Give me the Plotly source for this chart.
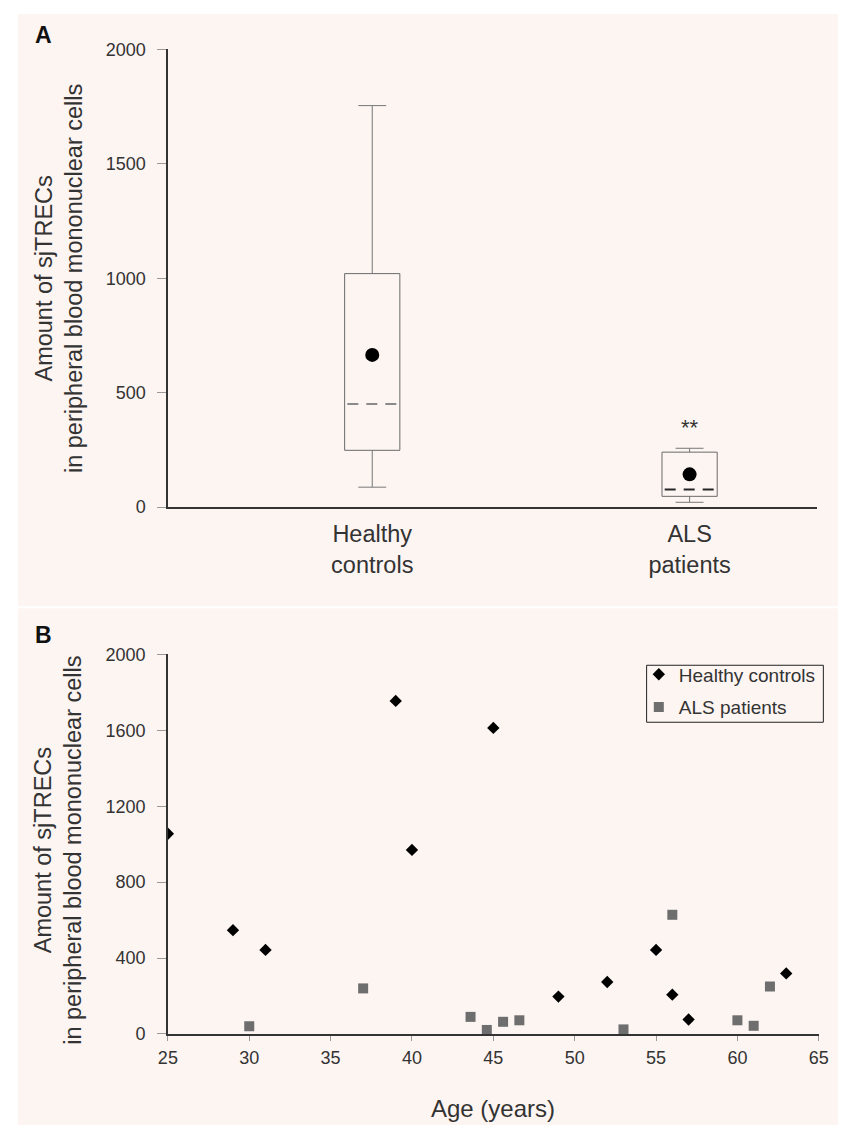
import plotly.graph_objects as go

# ---------------- data ----------------
# Panel A: summary statistics per group
groups = ["Healthy<br>controls", "ALS<br>patients"]
group_pos = [0, 1]
whisker_low = [87, 21]
q1 = [248, 47]
median = [450, 77]
q3 = [1020, 240]
whisker_high = [1754, 257]
mean = [665, 143]
signif_text = "**"
signif_group = 1
signif_y = 348

yA_ticks = [0, 500, 1000, 1500, 2000]

# Panel B: sjTRECs vs age
hc_age = [25, 29, 31, 39, 40, 45, 49, 52, 55, 56, 57, 63]
hc_val = [1055, 547, 443, 1755, 970, 1613, 197, 274, 443, 207, 76, 319]
als_age = [30, 37, 43.6, 44.6, 45.6, 46.6, 53, 56, 60, 61, 62]
als_val = [41, 240, 90, 21, 64, 72, 24, 628, 72, 43, 250]

xB_ticks = [25, 30, 35, 40, 45, 50, 55, 60, 65]
yB_ticks = [0, 400, 800, 1200, 1600, 2000]

# ---------------- layout helpers ----------------
W, H = 848, 1136
BG = "#fdf5f2"
FONT = "Liberation Sans, Arial, sans-serif"
TXT = "#333333"


def px(x):
    return x / W


def py(y):
    return 1 - y / H


box_w = 0.174
cap_w = 0.088
med_w = 0.157
median_colors = ["#8a8a8a", "#262626"]

fig = go.Figure()

# --- Panel A: boxes built from the summary arrays ---
bx, by, wx, wy = [], [], [], []
for i, p in enumerate(group_pos):
    l, r = p - box_w / 2, p + box_w / 2
    bx += [l, r, r, l, l, None]
    by += [q1[i], q1[i], q3[i], q3[i], q1[i], None]
    # upper whisker + cap
    wx += [p, p, None, p - cap_w / 2, p + cap_w / 2, None]
    wy += [q3[i], whisker_high[i], None, whisker_high[i], whisker_high[i], None]
    # lower whisker + cap
    wx += [p, p, None, p - cap_w / 2, p + cap_w / 2, None]
    wy += [q1[i], whisker_low[i], None, whisker_low[i], whisker_low[i], None]

fig.add_trace(go.Scatter(x=wx, y=wy, mode="lines", line=dict(color="#777777", width=1),
                         showlegend=False, hoverinfo="skip", xaxis="x", yaxis="y"))
fig.add_trace(go.Scatter(x=bx, y=by, mode="lines", line=dict(color="#6a6a6a", width=1),
                         showlegend=False, hoverinfo="skip", xaxis="x", yaxis="y"))
for i, p in enumerate(group_pos):
    fig.add_trace(go.Scatter(x=[p - med_w / 2, p + med_w / 2], y=[median[i], median[i]],
                             mode="lines", line=dict(color=median_colors[i], width=2, dash="11px,8px"),
                             showlegend=False, hoverinfo="skip", xaxis="x", yaxis="y"))
fig.add_trace(go.Scatter(x=group_pos, y=mean, mode="markers",
                         marker=dict(symbol="circle", size=14, color="black"),
                         showlegend=False, xaxis="x", yaxis="y"))

# --- Panel B: scatter ---
fig.add_trace(go.Scatter(x=hc_age, y=hc_val, mode="markers", name="Healthy controls",
                         legendgroup="hc",
                         marker=dict(symbol="diamond", size=9.5, color="black"),
                         xaxis="x2", yaxis="y2"))
fig.add_trace(go.Scatter(x=als_age, y=als_val, mode="markers", name="ALS patients",
                         legendgroup="als",
                         marker=dict(symbol="square", size=10, color="#6e6e6e"),
                         xaxis="x2", yaxis="y2"))

tickfont = dict(family=FONT, size=18, color=TXT)

fig.update_layout(
    width=W, height=H,
    margin=dict(l=0, r=0, t=0, b=0),
    paper_bgcolor="white",
    plot_bgcolor="rgba(0,0,0,0)",
    font=dict(family=FONT, color=TXT),
    xaxis=dict(domain=[px(162), px(827)], range=[-0.643, 1.403],
               tickmode="array", tickvals=group_pos, ticktext=groups,
               tickfont=dict(family=FONT, size=23.5, color=TXT),
               showline=True, linecolor="#333333", linewidth=1.5,
               ticks="", showgrid=False, zeroline=False, anchor="y",
               ticklabelstandoff=5),
    yaxis=dict(domain=[py(506), py(40)], range=[0, 2000],
               tickmode="array", tickvals=yA_ticks, tickfont=tickfont,
               showline=True, linecolor="#333333", linewidth=1.5,
               ticks="outside", ticklen=9, tickcolor="#9a9a9a", tickwidth=1,
               showgrid=False, zeroline=False, anchor="x",
               ticklabelstandoff=8),
    xaxis2=dict(domain=[px(161.7), px(828.3)], range=[25, 65],
                tickmode="array", tickvals=xB_ticks, tickfont=tickfont,
                showline=True, linecolor="#333333", linewidth=1.5,
                ticks="outside", ticklen=5, tickcolor="#9a9a9a", tickwidth=1,
                showgrid=False, zeroline=False, anchor="y2",
                ticklabelstandoff=2),
    yaxis2=dict(domain=[py(1042.3), py(656)], range=[0, 2000],
                tickmode="array", tickvals=yB_ticks, tickfont=tickfont,
                showline=True, linecolor="#333333", linewidth=1.5,
                ticks="outside", ticklen=9, tickcolor="#9a9a9a", tickwidth=1,
                showgrid=False, zeroline=False, anchor="x2",
                ticklabelstandoff=8),
    legend=dict(x=px(644), y=py(657), xanchor="left", yanchor="top",
                bgcolor="rgba(0,0,0,0)", borderwidth=0,
                font=dict(family=FONT, size=19, color=TXT),
                tracegroupgap=5, itemsizing="trace"),
    shapes=[
        dict(type="rect", xref="paper", yref="paper", x0=px(8), x1=1, y0=py(607), y1=py(4),
             fillcolor=BG, line=dict(width=0), layer="below"),
        dict(type="rect", xref="paper", yref="paper", x0=px(8), x1=1, y0=py(1135), y1=py(609),
             fillcolor=BG, line=dict(width=0), layer="below"),
        # legend frame
        dict(type="rect", xref="paper", yref="paper", x0=px(652), x1=px(833), y0=py(725), y1=py(667),
             fillcolor=BG, line=dict(color="#222222", width=1), layer="below"),
    ],
)

ytitle = "Amount of sjTRECs<br>in peripheral blood mononuclear cells"
annotations = [
    dict(text="<b>A</b>", x=px(34), y=py(25), xref="paper", yref="paper", showarrow=False,
         font=dict(family=FONT, size=23, color="#111111"), xanchor="center", yanchor="middle"),
    dict(text="<b>B</b>", x=px(34.5), y=py(636.5), xref="paper", yref="paper", showarrow=False,
         font=dict(family=FONT, size=23, color="#111111"), xanchor="center", yanchor="middle"),
    dict(text=ytitle, x=px(50), y=py(273), xref="paper", yref="paper", showarrow=False,
         textangle=-90, font=dict(family=FONT, size=23.5, color=TXT),
         xanchor="center", yanchor="middle"),
    dict(text=ytitle, x=px(50), y=py(855), xref="paper", yref="paper", showarrow=False,
         textangle=-90, font=dict(family=FONT, size=23.5, color=TXT),
         xanchor="center", yanchor="middle"),
    dict(text="Age (years)", x=px(495), y=py(1118), xref="paper", yref="paper", showarrow=False,
         font=dict(family=FONT, size=24, color=TXT), xanchor="center", yanchor="middle"),
    dict(text=signif_text, x=group_pos[signif_group], y=signif_y, xref="x", yref="y",
         showarrow=False, font=dict(family=FONT, size=22, color=TXT),
         xanchor="center", yanchor="middle"),
]
fig.update_layout(annotations=annotations)

fig.write_html(
    "out.html",
    config={"displayModeBar": False},
    post_script="document.body.style.margin='0';document.body.style.overflow='hidden';"
                "document.documentElement.style.overflow='hidden';",
)
